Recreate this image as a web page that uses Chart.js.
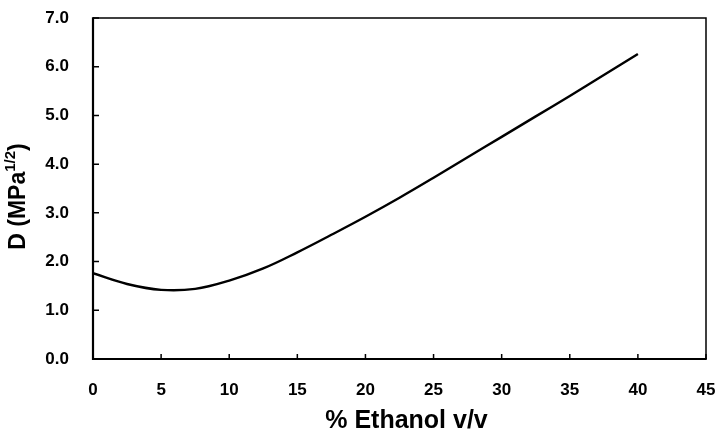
<!DOCTYPE html>
<html>
<head>
<meta charset="utf-8">
<script src="https://cdn.jsdelivr.net/npm/chart.js@4/dist/chart.umd.min.js"></script>
<style>
  html, body { margin: 0; padding: 0; background: #fff; }
  #wrap { width: 718px; height: 433px; }
</style>
</head>
<body>
<div id="wrap"><canvas id="dChart" width="718" height="433"></canvas></div>
<script>
// ethanol content (% v/v) and distance D (MPa^1/2)
const ethanol = [0, 2.5, 5, 7.5, 10, 12.5, 15, 17.5, 20, 22.5, 25, 27.5, 30, 32.5, 35, 37.5, 40];
const distance = [1.76, 1.54, 1.42, 1.44, 1.61, 1.86, 2.19, 2.55, 2.92, 3.31, 3.72, 4.14, 4.56, 4.98, 5.40, 5.83, 6.26];
const xTicks = [0, 5, 10, 15, 20, 25, 30, 35, 40, 45];
const yTicks = [0, 1, 2, 3, 4, 5, 6, 7];

const FONT = "'Liberation Sans', Arial, sans-serif";

// box around the plot, inward tick marks and both axis titles
const framePlugin = {
  id: "frame",
  afterDraw(chart) {
    const { ctx, chartArea: a, scales } = chart;
    ctx.save();
    ctx.strokeStyle = "#000";
    ctx.lineWidth = 1.5;
    ctx.beginPath();
    ctx.moveTo(a.left, a.top);
    ctx.lineTo(a.right, a.top);
    ctx.lineTo(a.right, a.bottom);
    ctx.stroke();

    ctx.lineWidth = 2.2;
    ctx.beginPath();
    ctx.moveTo(a.left, a.top - 0.75);
    ctx.lineTo(a.left, a.bottom);
    ctx.lineTo(a.right + 0.75, a.bottom);
    ctx.stroke();

    ctx.lineWidth = 1.5;
    ctx.beginPath();
    xTicks.forEach(v => {
      const px = scales.x.getPixelForValue(v);
      ctx.moveTo(px, a.bottom);
      ctx.lineTo(px, a.bottom - 5);
    });
    yTicks.forEach(v => {
      const py = scales.y.getPixelForValue(v);
      ctx.moveTo(a.left, py);
      ctx.lineTo(a.left + 6, py);
    });
    ctx.stroke();

    ctx.fillStyle = "#000";

    // x axis title
    ctx.save();
    ctx.font = "bold 25px " + FONT;
    ctx.textAlign = "center";
    ctx.textBaseline = "middle";
    ctx.fillText("% Ethanol v/v", (a.left + a.right) / 2 + 7, 421);
    ctx.restore();

    // y axis title, with the 1/2 exponent raised
    ctx.translate(25, (a.top + a.bottom) / 2 + 8);
    ctx.rotate(-Math.PI / 2);
    ctx.textBaseline = "alphabetic";
    const big = "bold 23px " + FONT, small = "bold 15px " + FONT;
    ctx.font = big;
    const w1 = ctx.measureText("D (MPa").width;
    const w3 = ctx.measureText(")").width;
    ctx.font = small;
    const w2 = ctx.measureText("1/2").width;
    let x = -(w1 + w2 + w3) / 2;
    ctx.font = big;
    ctx.fillText("D (MPa", x, 0);
    x += w1;
    ctx.font = small;
    ctx.fillText("1/2", x, -10);
    x += w2;
    ctx.font = big;
    ctx.fillText(")", x, 0);
    ctx.restore();
  }
};

new Chart(document.getElementById("dChart").getContext("2d"), {
  type: "line",
  data: {
    datasets: [{
      data: ethanol.map((e, i) => ({ x: e, y: distance[i] })),
      borderColor: "#000",
      borderWidth: 2.4,
      pointRadius: 0,
      fill: false,
      tension: 0.4
    }]
  },
  options: {
    responsive: false,
    animation: false,
    layout: { padding: { top: 18, right: 12 } },
    plugins: { legend: { display: false }, tooltip: { enabled: false } },
    scales: {
      x: {
        type: "linear",
        min: 0,
        max: 45,
        afterBuildTicks: s => { s.ticks = xTicks.map(v => ({ value: v })); },
        afterFit: s => { s.height = 74; s.paddingLeft = 0; s.paddingRight = 0; },
        grid: { display: false },
        border: { display: false },
        ticks: {
          color: "#000",
          padding: 13,
          font: { family: FONT, size: 17, weight: "bold" }
        }
      },
      y: {
        min: 0,
        max: 7,
        afterBuildTicks: s => { s.ticks = yTicks.map(v => ({ value: v })); },
        afterFit: s => { s.width = 93; s.paddingTop = 0; s.paddingBottom = 0; },
        grid: { display: false },
        border: { display: false },
        ticks: {
          color: "#000",
          padding: 16,
          font: { family: FONT, size: 17, weight: "bold" },
          callback: v => v.toFixed(1)
        }
      }
    }
  },
  plugins: [framePlugin]
});
</script>
</body>
</html>
